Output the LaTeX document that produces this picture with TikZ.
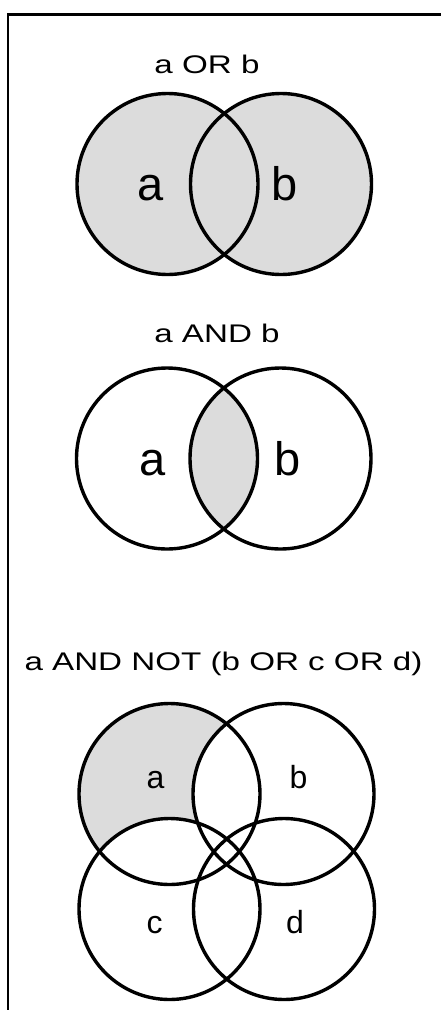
\documentclass[tikz,border=0pt]{standalone}
\usepackage{fontspec}
\setmainfont{Liberation Sans}
\usepackage{graphicx}
\definecolor{venngray}{RGB}{220,220,220}
\begin{document}
\begin{tikzpicture}[x=1pt,y=-1pt,
  ring/.style={line width=3.4pt, draw=black},
  frameline/.style={line width=2.2pt, draw=black},
  title/.style={anchor=base, inner sep=0pt, font=\fontsize{25.5}{30}\selectfont},
  biglabel/.style={anchor=base, inner sep=0pt, font=\fontsize{47}{56}\selectfont},
  smalllabel/.style={anchor=base, inner sep=0pt, font=\fontsize{32}{38}\selectfont}]
\useasboundingbox (0,0) rectangle (441,1010);
% frame
\coordinate (fb) at (8,1010);
\coordinate (fc) at (8,14.5);
\coordinate (fr) at (441,14.5);
\draw[frameline] (fb) -- (fc) -- (fr);

\def\R{90.5}
% ---------- a OR b ----------
\coordinate (oa) at (167.5,184);
\coordinate (ob) at (281,184);
\fill[venngray] (oa) circle[radius=\R] (ob) circle[radius=\R];
\draw[ring] (oa) circle[radius=\R];
\draw[ring] (ob) circle[radius=\R];
\node[title] (t1) at (207,73) {\scalebox{1.3}[1]{a OR b}};
\node[biglabel] (la1) at (150.5,200) {a};
\node[biglabel] (lb1) at (285,200) {b};

% ---------- a AND b ----------
\coordinate (na) at (167,458.5);
\coordinate (nb) at (280.5,458.5);
\begin{scope}
  \clip (na) circle[radius=\R];
  \fill[venngray] (nb) circle[radius=\R];
\end{scope}
\draw[ring] (na) circle[radius=\R];
\draw[ring] (nb) circle[radius=\R];
\node[title] (t2) at (217,342) {\scalebox{1.3}[1]{a AND b}};
\node[biglabel] (la2) at (153,475) {a};
\node[biglabel] (lb2) at (288,475) {b};

% ---------- a AND NOT (b OR c OR d) ----------
\coordinate (ca) at (169.5,794);
\coordinate (cb) at (283.5,794);
\coordinate (cc) at (169.5,909);
\coordinate (cd) at (284,909);
\fill[venngray] (ca) circle[radius=\R];
\fill[white] (cb) circle[radius=\R] (cc) circle[radius=\R] (cd) circle[radius=\R];
\draw[ring] (ca) circle[radius=\R];
\draw[ring] (cb) circle[radius=\R];
\draw[ring] (cc) circle[radius=\R];
\draw[ring] (cd) circle[radius=\R];
\node[title] (t3) at (223.5,670) {\scalebox{1.3}[1]{a AND NOT (b OR c OR d)}};
\node[smalllabel] (la3) at (155.5,788) {a};
\node[smalllabel] (lb3) at (298.5,788) {b};
\node[smalllabel] (lc3) at (154.5,933) {c};
\node[smalllabel] (ld3) at (295,933) {d};
\end{tikzpicture}
\end{document}
